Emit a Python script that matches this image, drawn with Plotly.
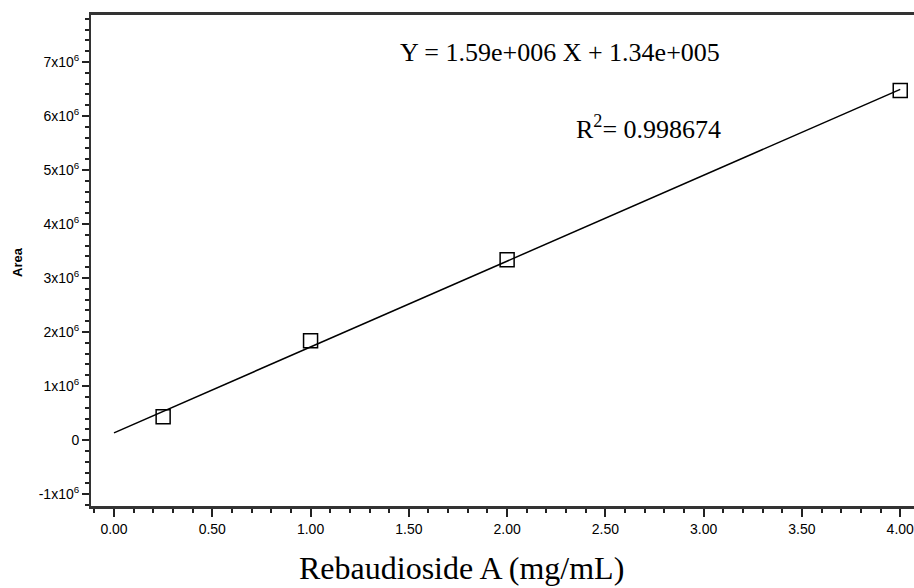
import plotly.graph_objects as go

conc = [0.25, 1.0, 2.0, 4.0]
area = [0.43e6, 1.84e6, 3.34e6, 6.47e6]
slope = 1.59e6
intercept = 1.34e5
fit_x = [0.0, 4.0]
fit_y = [intercept + slope * v for v in fit_x]

ytick_vals = [-1e6, 0, 1e6, 2e6, 3e6, 4e6, 5e6, 6e6, 7e6]
ytick_text = ["-1x10<sup>6</sup>", "0", "1x10<sup>6</sup>", "2x10<sup>6</sup>", "3x10<sup>6</sup>",
              "4x10<sup>6</sup>", "5x10<sup>6</sup>", "6x10<sup>6</sup>", "7x10<sup>6</sup>"]
xtick_vals = [0, 0.5, 1.0, 1.5, 2.0, 2.5, 3.0, 3.5, 4.0]
xtick_text = ["0.00", "0.50", "1.00", "1.50", "2.00", "2.50", "3.00", "3.50", "4.00"]

SANS = "Liberation Sans"
SERIF = "Liberation Serif"

fig = go.Figure()
fig.add_trace(go.Scatter(x=fit_x, y=fit_y, mode="lines",
                         line=dict(color="black", width=1.5), showlegend=False))
fig.add_trace(go.Scatter(x=conc, y=area, mode="markers",
                         marker=dict(symbol="square-open", size=14, color="black",
                                     line=dict(width=1.5, color="black")),
                         showlegend=False))

fig.add_annotation(x=2.27, y=7.17e6, text="Y = 1.59e+006 X + 1.34e+005", showarrow=False,
                   xanchor="center", yanchor="middle",
                   font=dict(family=SERIF, size=26, color="black"))
fig.add_annotation(x=3.10, y=5.78e6, text="R<sup>2</sup>= 0.998674", showarrow=False,
                   xanchor="right", yanchor="middle",
                   font=dict(family=SERIF, size=26, color="black"))
fig.add_annotation(xref="paper", yref="paper", x=(461 - 91) / 823, y=-(568 - 506) / 491,
                   text="Rebaudioside A (mg/mL)", showarrow=False,
                   xanchor="center", yanchor="middle",
                   font=dict(family=SERIF, size=32, color="black"))
fig.add_annotation(xref="paper", yref="paper", x=-(91 - 17) / 823, y=(506 - 262) / 491,
                   text="<b>Area</b>", showarrow=False, textangle=-90,
                   xanchor="center", yanchor="middle",
                   font=dict(family=SANS, size=13, color="black"))

fig.update_layout(
    width=914, height=588,
    margin=dict(l=91, r=0, t=15, b=82),
    paper_bgcolor="white", plot_bgcolor="white",
    font=dict(family=SANS, size=14, color="black"),
    xaxis=dict(range=[-0.117, 4.07], tickvals=xtick_vals, ticktext=xtick_text,
               ticks="outside", ticklen=8, tickwidth=1.5, tickcolor="#222",
               showline=True, linecolor="#333", linewidth=2.5, mirror=True,
               showgrid=False, zeroline=False, ticklabeloverflow="allow",
               tickfont=dict(family=SANS, size=14, color="black"),
               minor=dict(dtick=0.1, tick0=0, ticks="outside", ticklen=4, tickwidth=1.5, tickcolor="#222")),
    yaxis=dict(range=[-1.22e6, 7.87e6], tickvals=ytick_vals, ticktext=ytick_text,
               ticks="outside", ticklen=7, tickwidth=1.5, tickcolor="#222",
               showline=True, linecolor="#333", linewidth=2, mirror=False,
               showgrid=False, zeroline=False,
               tickfont=dict(family=SANS, size=14, color="black"),
               minor=dict(dtick=0.2e6, tick0=0, ticks="outside", ticklen=4, tickwidth=1.5, tickcolor="#222")),
)

fig.write_html("out.html")
